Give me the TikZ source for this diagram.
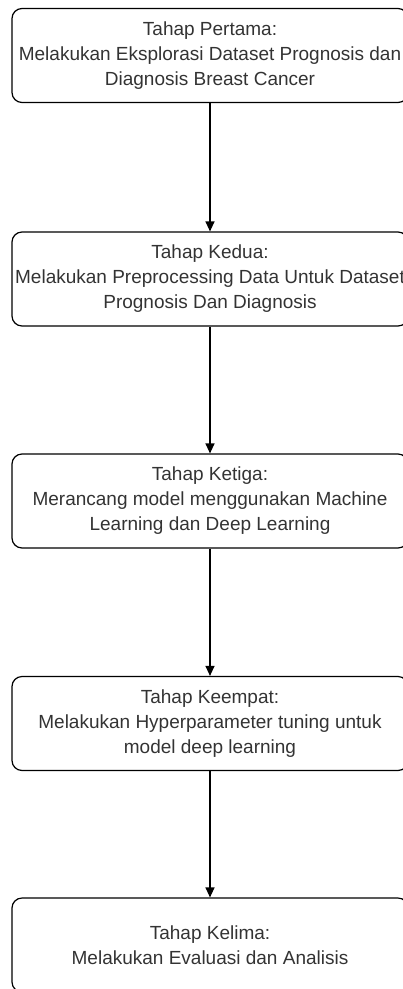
\documentclass[tikz,border=0pt]{standalone}
\usepackage{fontspec}
\setmainfont{Liberation Sans}
\usetikzlibrary{arrows.meta}
\definecolor{txt}{HTML}{333333}
\tikzset{
  stage/.style={draw=black, line width=1.2pt, rounded corners=10pt, rectangle,
    minimum width=396pt, minimum height=94pt, inner sep=0pt, align=center,
    text=txt, font=\fontsize{19}{25}\selectfont},
  flow/.style={draw=black, line width=1.2pt, -{Triangle[length=10pt,width=9pt]}}
}
\begin{document}
\begin{tikzpicture}[x=1pt,y=-1pt]
\useasboundingbox (0,0) rectangle (403,989);
\clip (0,0) rectangle (403,989);
\node[stage] (s1) at (210,55.5) {Tahap Pertama:\\Melakukan Eksplorasi Dataset Prognosis dan\\Diagnosis Breast Cancer};
\node[stage] (s2) at (210,279) {Tahap Kedua:\\Melakukan Preprocessing Data Untuk Dataset\\Prognosis Dan Diagnosis};
\node[stage] (s3) at (210,501) {Tahap Ketiga:\\Merancang model menggunakan Machine\\Learning dan Deep Learning};
\node[stage] (s4) at (210,723.5) {Tahap Keempat:\\Melakukan Hyperparameter tuning untuk\\model deep learning};
\node[stage] (s5) at (210,945) {Tahap Kelima:\\Melakukan Evaluasi dan Analisis};
\draw[flow] (s1) -- (s2);
\draw[flow] (s2) -- (s3);
\draw[flow] (s3) -- (s4);
\draw[flow] (s4) -- (s5);
\end{tikzpicture}
\end{document}
